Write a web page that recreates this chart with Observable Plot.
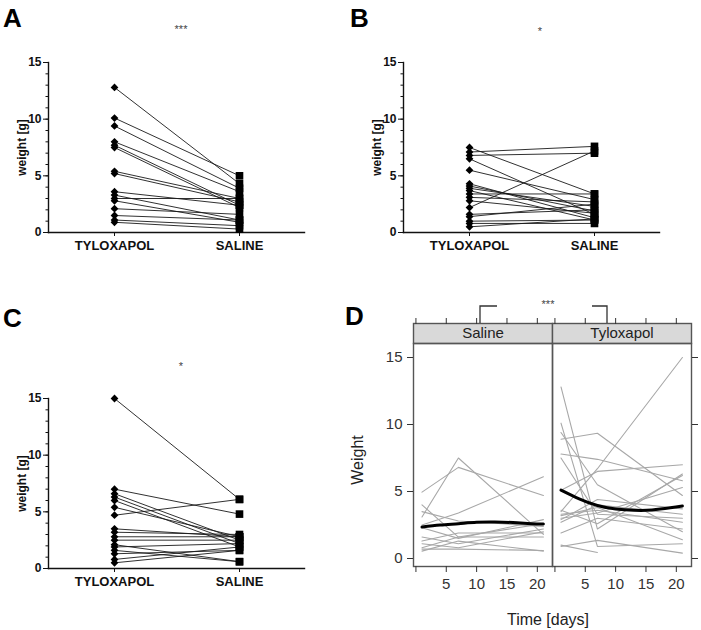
<!DOCTYPE html>
<html><head><meta charset="utf-8">
<script src="https://cdn.jsdelivr.net/npm/d3@7"></script>
<script src="https://cdn.jsdelivr.net/npm/@observablehq/plot@0.6"></script>
<style>
body{margin:0;background:#fff;font-family:Arial,"Liberation Sans",sans-serif;}
#root{position:relative;width:701px;height:630px;overflow:hidden;background:#fff;}
#root svg{position:absolute;}
</style></head>
<body><div id="root"></div>
<script>
// ---------- data ----------
const groups = ["TYLOXAPOL", "SALINE"];
const yTicks = [0, 5, 10, 15];
const yMinor = [0,1,2,3,4,5,6,7,8,9,10,11,12,13,14,15];

// Panel A (paired values, same index = same animal)
const aTylo = [12.8,10.1,9.4,8.0,7.7,7.5,5.4,5.2,3.6,3.3,3.0,2.8,2.1,1.5,1.1,0.9];
const aSal  = [4.3,5.0,3.9,3.6,2.4,2.2,3.0,2.7,2.4,1.1,3.0,0.9,1.6,1.1,0.6,0.3];
// Panel B
const bTylo = [7.5,7.1,6.8,6.5,5.5,4.3,4.1,3.9,3.7,3.4,3.1,2.8,2.2,1.6,1.4,1.0,0.8,0.5];
const bSal  = [3.4,7.6,7.0,1.6,2.9,1.3,1.9,2.3,1.1,3.4,2.7,1.7,7.2,2.0,2.5,1.1,0.8,1.2];
// Panel C
const cTylo = [15.0,7.0,6.6,6.3,6.0,5.4,4.7,3.5,3.2,2.8,2.5,2.1,1.9,1.6,1.3,0.8,0.5];
const cSal  = [6.1,4.8,2.5,2.2,1.9,2.8,6.1,2.8,3.0,2.8,2.5,0.6,2.2,0.6,1.6,1.9,1.6];

// Panel D
const stripLabels = ["Saline", "Tyloxapol"];
const days = [1, 7, 21];
const xTicksD = [0, 5, 10, 15, 20];
const salD1  = [4.95,3.1,2.5,4.0,3.5,2.3,1.6,1.1,0.8,0.7,0.55,1.3];
const salD7  = [6.8,7.5,3.4,1.6,2.8,1.5,1.1,0.8,1.6,0.7,1.3,1.9];
const salD21 = [4.7,1.8,6.1,2.6,2.4,2.9,2.2,2.0,1.6,0.6,0.55,1.9];
const tyloD1  = [12.8,10.1,9.4,8.9,7.8,7.5,5.1,3.5,3.3,3.0,2.7,1.9,1.0,0.9,3.2,2.9,3.6];
const tyloD7  = [2.2,0.9,5.5,9.35,7.4,3.3,6.5,6.7,3.6,3.4,4.0,3.0,0.45,1.35,3.8,4.4,2.6];
const tyloD21 = [6.3,1.1,2.0,4.7,5.8,3.0,7.0,15.0,2.7,5.3,3.3,2.2,null,0.4,1.4,3.7,6.2];
const meanDays = [1,4,7,10,13,16,19,21];
const salMean  = [2.35,2.5,2.6,2.7,2.72,2.68,2.6,2.57];
const tyloMean = [5.1,4.45,3.95,3.7,3.6,3.62,3.78,3.92];

// ---------- helpers ----------
const root = document.getElementById("root");
const FONT = "Arial, 'Liberation Sans', sans-serif";
function place(node, left, top) { node.style.left = left + "px"; node.style.top = top + "px"; root.appendChild(node); }

function pairPlot(tylo, sal) {
  const rows = [];
  tylo.forEach((t, i) => {
    rows.push({id: i, g: groups[0], v: t});
    rows.push({id: i, g: groups[1], v: sal[i]});
  });
  return Plot.plot({
    width: 320, height: 270, marginLeft: 48, marginRight: 16, marginTop: 62, marginBottom: 38,
    style: {background: "transparent", fontFamily: FONT, color: "#111", overflow: "visible"},
    x: {type: "point", domain: groups, padding: 0.52},
    y: {domain: [0, 15]},
    marks: [
      Plot.axisY({ticks: yMinor, tickSize: 2.5, tickFormat: () => "", label: null}),
      Plot.axisY({ticks: yTicks, tickSize: 5, tickPadding: 2, fontSize: 12, fontWeight: "bold",
                  label: "weight [g]", labelAnchor: "center", labelOffset: 31, labelArrow: "none"}),
      Plot.axisX({tickSize: 4, tickPadding: 4, fontSize: 13, fontWeight: "bold", label: null}),
      Plot.frame({anchor: "left", strokeWidth: 1.4}),
      Plot.frame({anchor: "bottom", strokeWidth: 1.4}),
      Plot.line(rows, {x: "g", y: "v", z: "id", stroke: "#1a1a1a", strokeWidth: 0.9}),
      Plot.dot(rows.filter(d => d.g === groups[0]), {x: "g", y: "v", symbol: "diamond2", r: 3.5, fill: "#000"}),
      Plot.dot(rows.filter(d => d.g === groups[1]), {x: "g", y: "v", symbol: "square", r: 4.3, fill: "#000"})
    ]
  });
}

place(pairPlot(aTylo, aSal), 0, 0);
place(pairPlot(bTylo, bSal), 355, 0);
place(pairPlot(cTylo, cSal), 0, 336);

// ---------- panel D ----------
const dRows = [];
function addSeries(grp, d1, d7, d21, prefix) {
  d1.forEach((_, i) => {
    [d1[i], d7[i], d21[i]].forEach((v, j) => dRows.push({grp, id: prefix + i, day: days[j], v}));
  });
}
addSeries("Saline", salD1, salD7, salD21, "s");
addSeries("Tyloxapol", tyloD1, tyloD7, tyloD21, "t");
const meanRows = [
  ...meanDays.map((d, i) => ({grp: "Saline", day: d, v: salMean[i]})),
  ...meanDays.map((d, i) => ({grp: "Tyloxapol", day: d, v: tyloMean[i]}))
];

const strip = Plot.plot({
  width: 361, height: 28, marginLeft: 72, marginRight: 10, marginTop: 7, marginBottom: 1,
  style: {background: "transparent", fontFamily: FONT, color: "#333", overflow: "visible"},
  fx: {domain: stripLabels, padding: 0, axis: null},
  x: {domain: [-0.4, 22.5]},
  marks: [
    Plot.frame({fill: "#d9d9d9", stroke: "#555", strokeWidth: 1.4}),
    Plot.text(stripLabels, {fx: d => d, text: d => d, frameAnchor: "middle", fontSize: 15, fill: "#222"}),
    Plot.axisX({anchor: "top", ticks: xTicksD, tickSize: 6, tickFormat: () => "", label: null})
  ]
});
place(strip, 340, 316);

const dPlot = Plot.plot({
  width: 361, height: 288, marginLeft: 72, marginRight: 10, marginTop: 1, marginBottom: 64,
  style: {background: "transparent", fontFamily: FONT, color: "#333", overflow: "visible"},
  fx: {domain: stripLabels, padding: 0, axis: null},
  x: {domain: [-0.4, 22.5]},
  y: {domain: [0, 15], range: [216, 15]},
  marks: [
    Plot.line(dRows, {fx: "grp", x: "day", y: "v", z: "id", stroke: "#a8a8a8", strokeWidth: 1.1}),
    Plot.line(meanRows, {fx: "grp", x: "day", y: "v", stroke: "#000", strokeWidth: 3, curve: "natural"}),
    Plot.frame({stroke: "#555", strokeWidth: 1.4}),
    Plot.axisX({ticks: xTicksD, tickSize: 6, tickPadding: 6, tickFormat: d => d === 0 ? "" : d, fontSize: 15, label: null}),
    Plot.axisY({anchor: "left", ticks: yTicks, tickSize: 6, tickPadding: 5, fontSize: 15, label: null}),
    Plot.axisY({anchor: "right", ticks: yTicks, tickSize: 6, tickFormat: () => "", label: null})
  ]
});
place(dPlot, 340, 342);

// ---------- annotations ----------
const ov = d3.create("svg").attr("width", 701).attr("height", 630)
  .style("left", "0px").style("top", "0px").style("pointer-events", "none")
  .attr("font-family", FONT);
const letters = [["A", 3, 27], ["B", 350, 27], ["C", 3, 327], ["D", 345, 325]];
ov.selectAll("text.l").data(letters).join("text").attr("class", "l")
  .attr("x", d => d[1]).attr("y", d => d[2]).text(d => d[0])
  .attr("font-size", 26).attr("font-weight", "bold").attr("fill", "#000");
const stars = [["***", 181, 33], ["*", 540, 35], ["*", 181, 370], ["***", 548, 308]];
ov.selectAll("text.s").data(stars).join("text").attr("class", "s")
  .attr("x", d => d[1]).attr("y", d => d[2]).text(d => d[0])
  .attr("text-anchor", "middle").attr("font-size", 11).attr("fill", "#444");
ov.append("path").attr("d", "M480,323V306H497M592,306H607V323")
  .attr("fill", "none").attr("stroke", "#333").attr("stroke-width", 1.3);
ov.append("text").attr("transform", "translate(363,460) rotate(-90)")
  .attr("text-anchor", "middle").attr("font-size", 16).attr("fill", "#222").text("Weight");
ov.append("text").attr("x", 548).attr("y", 625).attr("text-anchor", "middle")
  .attr("font-size", 16).attr("fill", "#222").text("Time [days]");
root.appendChild(ov.node());
</script>
</body></html>
